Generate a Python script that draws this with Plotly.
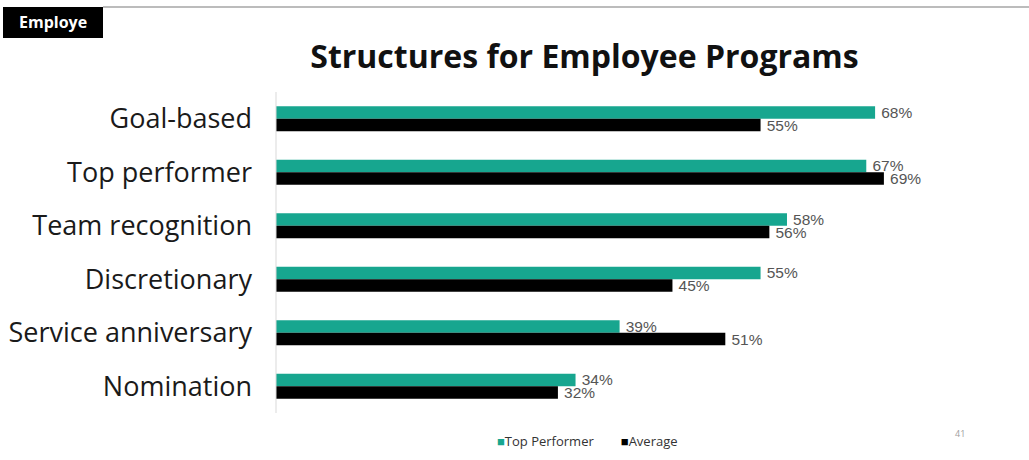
import plotly.graph_objects as go

# Program structures, listed top to bottom
categories = ["Goal-based", "Top performer", "Team recognition",
              "Discretionary", "Service anniversary", "Nomination"]
top_performer = [68, 67, 58, 55, 39, 34]
average = [55, 69, 56, 45, 51, 32]

TEAL = "#17a68f"
BLACK = "#000000"

fig = go.Figure()

for name, vals, color in [("Top Performer", top_performer, TEAL),
                          ("Average", average, BLACK)]:
    fig.add_trace(go.Bar(
        y=categories, x=vals, orientation="h", name=name,
        marker=dict(color=color, line=dict(width=0)),
        text=[f"\u2009{v}%" for v in vals], textposition="outside",
        constraintext="none",
        textfont=dict(family="Liberation Sans, Arial", size=15.5, color="#555555"),
        cliponaxis=False, showlegend=False,
    ))

# key under the chart: coloured square glyph followed by the series name
legend_html = (
    f"<span style='color:{TEAL}'>■</span>Top Performer"
    f"        <span style='color:{BLACK}'>■</span>Average"
)

fig.update_layout(
    width=1029, height=460,
    paper_bgcolor="white", plot_bgcolor="white",
    margin=dict(l=276, r=20, t=92, b=47),
    barmode="group", bargap=0.53, bargroupgap=0,
    title=dict(text="<b>Structures for Employee Programs</b>",
               font=dict(family="Open Sans", size=32, color="#111111"),
               x=0.568, xanchor="center", y=0.876, yanchor="middle"),
    xaxis=dict(range=[0, 83.2], visible=False, fixedrange=True,
               automargin=False),
    yaxis=dict(autorange="reversed", showgrid=False, zeroline=False,
               showline=False, ticks="", automargin=False,
               ticklabelstandoff=23,
               tickfont=dict(family="Open Sans", size=27, color="#1a1a1a")),
    showlegend=False,
    shapes=[
        # vertical axis line
        dict(type="line", xref="paper", yref="paper", x0=0, x1=0, y0=0, y1=1,
             line=dict(color="#d9d9d9", width=1)),
        # top rule
        dict(type="line", xref="paper", yref="paper",
             x0=-173 / 733, x1=753 / 733, y0=(460 - 47 - 7) / 321,
             y1=(460 - 47 - 7) / 321, line=dict(color="#a6a6a6", width=1.5)),
        # section tag box
        dict(type="rect", xref="paper", yref="paper",
             x0=-273 / 733, x1=-173 / 733,
             y0=(460 - 47 - 38) / 321, y1=(460 - 47 - 7) / 321,
             fillcolor="black", line=dict(width=0)),
    ],
    annotations=[
        dict(text="<b>Employe</b>", xref="paper", yref="paper",
             x=-223 / 733, y=(460 - 47 - 22.5) / 321,
             xanchor="center", yanchor="middle", showarrow=False,
             font=dict(family="Open Sans", size=16, color="white")),
        dict(text=legend_html, xref="paper", yref="paper",
             x=(495 - 276) / 733, y=(460 - 47 - 441) / 321,
             xanchor="left", yanchor="middle", showarrow=False,
             font=dict(family="Open Sans", size=13, color="#333333")),
        dict(text="41", xref="paper", yref="paper",
             x=684 / 733, y=(460 - 47 - 434) / 321,
             xanchor="center", yanchor="middle", showarrow=False,
             font=dict(family="Open Sans", size=9, color="#a0a0a0")),
    ],
)

fig.write_html("out.html")
